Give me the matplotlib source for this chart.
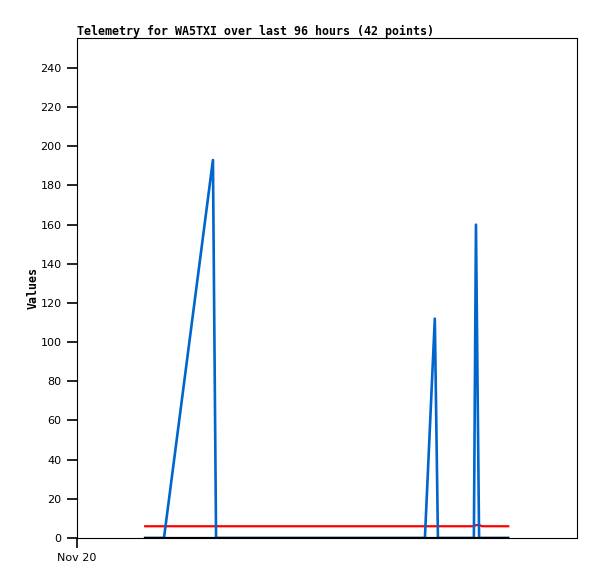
import matplotlib.pyplot as plt

# hours since Nov 20 00:00
hours = [13.1, 16.7, 26.1, 26.7, 30.0, 34.0, 38.0, 42.0, 46.0, 50.0, 54.0,
         58.0, 62.0, 66.8, 68.7, 69.3, 72.0, 76.2, 76.6, 77.2, 77.8, 78.5, 82.8]
blue_vals = [0, 0, 193, 0, 0, 0, 0, 0, 0, 0, 0,
             0, 0, 0, 112, 0, 0, 0, 160, 0, 0, 0, 0]
red_vals = [6, 6, 6, 6, 6, 6, 6, 6, 6, 6, 6,
            6, 6, 6, 6, 6, 6, 6, 6.6, 6.6, 6, 6, 6]
black_vals = [0] * len(hours)

y_ticks = list(range(0, 241, 20))
x_ticks = [0]
x_labels = ["Nov 20"]

fig = plt.figure(figsize=(5.97, 5.79), dpi=100)
ax = fig.add_axes([77 / 597, 41 / 579, 500 / 597, 500 / 579])

ax.plot(hours, blue_vals, color="#0066cc", lw=1.9, zorder=3)
ax.plot(hours, red_vals, color="#ff0000", lw=1.6, zorder=2)
ax.plot(hours, black_vals, color="#000000", lw=1.6, zorder=4)

ax.set_xlim(0, 96)
ax.set_ylim(0, 255.3)
ax.set_yticks(y_ticks)
ax.set_xticks(x_ticks)
ax.set_xticklabels(x_labels)
ax.tick_params(axis="both", direction="out", length=7, width=1.2,
               labelsize=8, pad=4)
for s in ax.spines.values():
    s.set_linewidth(0.8)

ax.set_title("Telemetry for WA5TXI over last 96 hours (42 points)",
             loc="left", family="DejaVu Sans Mono", fontweight="bold",
             fontsize=8.4, pad=2)
ax.set_ylabel("Values", family="DejaVu Sans Mono", fontweight="bold",
              fontsize=8.4)
ax.yaxis.set_label_coords(-0.074, 0.5)

fig.savefig("out.png", dpi=100)
